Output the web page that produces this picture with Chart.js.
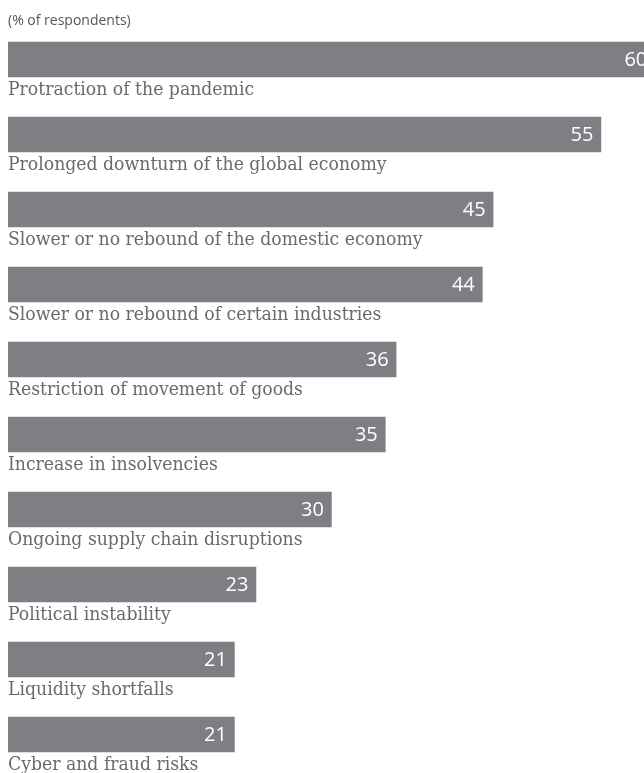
<!DOCTYPE html>
<html lang="en">
<head>
  <meta charset="UTF-8" />
  <title>Risks (% of respondents)</title>
  <script src="https://cdn.jsdelivr.net/npm/chart.js"></script>
  <style>
    body {
      margin: 0;
      background: #fff;
    }
    canvas {
      display: block;
    }
  </style>
</head>
<body>
  <canvas id="risksChart" width="644" height="773"></canvas>

  <script>
    const categories = [
      'Protraction of the pandemic',
      'Prolonged downturn of the global economy',
      'Slower or no rebound of the domestic economy',
      'Slower or no rebound of certain industries',
      'Restriction of movement of goods',
      'Increase in insolvencies',
      'Ongoing supply chain disruptions',
      'Political instability',
      'Liquidity shortfalls',
      'Cyber and fraud risks'
    ];
    const shares = [60, 55, 45, 44, 36, 35, 30, 23, 21, 21];
    const unitNote = '(% of respondents)';

    // labels under the bars, values inside the bar ends
    const barText = {
      id: 'barText',
      afterDatasetsDraw(chart) {
        const ctx = chart.ctx;
        const bars = chart.getDatasetMeta(0).data;
        ctx.save();
        bars.forEach((bar, i) => {
          const bottom = bar.y + bar.height / 2;
          ctx.fillStyle = '#6a6a6a';
          ctx.font = '19.2px "DejaVu Serif Condensed", "DejaVu Serif"';
          ctx.textAlign = 'left';
          ctx.textBaseline = 'alphabetic';
          ctx.fillText(categories[i], bar.base, bottom + 17.5);

          ctx.fillStyle = '#ffffff';
          ctx.font = '20px "Open Sans"';
          ctx.textAlign = 'right';
          ctx.textBaseline = 'middle';
          ctx.fillText(String(shares[i]), bar.x - 7.5, bar.y + 1);
        });
        ctx.fillStyle = '#555555';
        ctx.font = '14px "Open Sans"';
        ctx.textAlign = 'left';
        ctx.textBaseline = 'middle';
        ctx.fillText(unitNote, 8, 21);
        ctx.restore();
      }
    };

    new Chart(document.getElementById('risksChart'), {
      type: 'bar',
      data: {
        labels: categories,
        datasets: [{
          data: shares,
          backgroundColor: '#7e7f83',
          borderWidth: 0,
          barThickness: 35
        }]
      },
      options: {
        indexAxis: 'y',
        responsive: false,
        animation: false,
        layout: { padding: { left: 8, right: 0, top: 22, bottom: 1 } },
        scales: {
          x: { display: false, min: 0, max: 59 },
          y: { display: false }
        },
        plugins: {
          legend: { display: false },
          tooltip: { enabled: false }
        }
      },
      plugins: [barText]
    });
  </script>
</body>
</html>
